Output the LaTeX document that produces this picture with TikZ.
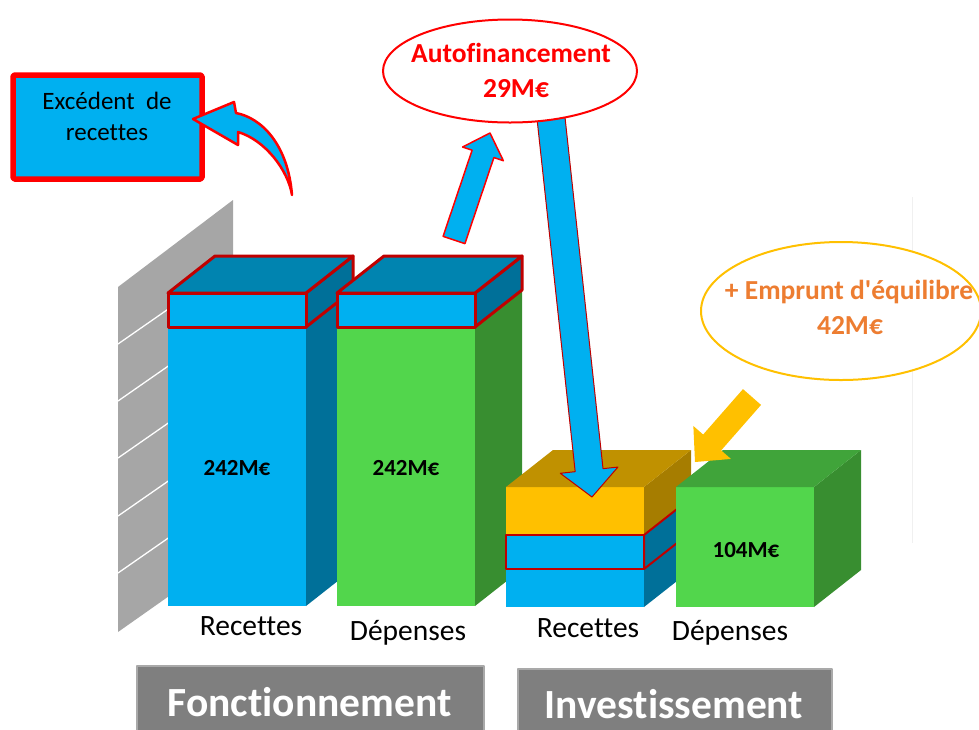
\documentclass[tikz,border=0pt]{standalone}
\usepackage{fontspec}
\setmainfont{Carlito}[Ligatures=NoCommon]
\newfontfamily\calib{Carlito}[Ligatures=NoCommon]
\usetikzlibrary{calc,shapes.geometric}

\definecolor{cyanF}{HTML}{00B0F0}
\definecolor{cyanS}{HTML}{007099}
\definecolor{cyanT}{HTML}{0084B0}
\definecolor{greenF}{HTML}{52D64C}
\definecolor{greenS}{HTML}{388E30}
\definecolor{greenT}{HTML}{40A43A}
\definecolor{goldF}{HTML}{FFC000}
\definecolor{goldT}{HTML}{C09100}
\definecolor{goldS}{HTML}{A67D00}
\definecolor{capRed}{HTML}{C00000}
\definecolor{wallGray}{HTML}{A6A6A6}
\definecolor{boxGray}{HTML}{7F7F7F}
\definecolor{boxEdge}{HTML}{A9A9A9}
\definecolor{orangeT}{HTML}{ED7D31}
\definecolor{pureRed}{HTML}{FF0000}

% three visible faces of a block: x left, y top, height, front / side / top styles
\newcommand\boxfaces[6]{%
  \path[#5] (#1+138,#2) -- ++(47,-37) -- ++(0,#3) -- ++(-47,37) -- cycle;
  \path[#4] (#1,#2) rectangle ++(138,#3);
  \path[#6] (#1,#2) -- ++(47,-37) -- ++(138,0) -- ++(-47,37) -- cycle;
}

% straight block arrow: style, tail, tip, half shaft, half head, head length
\newcommand\blockarrow[6]{%
  \coordinate (hb) at ($(#3)!#6!(#2)$);
  \path[#1] ($(#2)!#4!90:(#3)$) -- ($(hb)!#4!-90:(#2)$) -- ($(hb)!#5!-90:(#2)$)
    -- (#3) -- ($(hb)!#5!90:(#2)$) -- ($(hb)!#4!90:(#2)$) -- ($(#2)!#4!-90:(#3)$) -- cycle;
}

\begin{document}
\begin{tikzpicture}[x=1pt,y=-1pt,line join=round,
  lbl/.style={font=\calib\fontsize{29.5}{34}\selectfont, inner sep=0pt, anchor=base},
  val/.style={font=\calib\fontsize{23}{28}\selectfont\bfseries, inner sep=0pt, anchor=base},
  capline/.style={draw=capRed, line width=3pt},
  section/.style={fill=boxGray, draw=boxEdge, line width=2pt, inner sep=0pt,
    anchor=north west},
  sectxt/.style={font=\calib\fontsize{41.5}{48}\selectfont\bfseries, text=white,
    inner sep=0pt, anchor=base},
  bubbletxt/.style={font=\calib\fontsize{27.5}{33}\selectfont\bfseries, inner sep=0pt,
    anchor=base}]

\clip (0,0) rectangle (979,729);

% faint vertical rule on the right
\draw[black!6, line width=1pt] (912,197) -- (912,543);

% grey background wall
\fill[wallGray] (118,287) -- (233,200) -- (233,551) -- (118,632) -- cycle;
\foreach \yy in {344,401,458,516,573}
  \draw[white, line width=1.3pt] (118,\yy) -- ++(115,-80);

% Fonctionnement: recettes
\boxfaces{168}{327}{279}{fill=cyanF}{fill=cyanS}{}
\boxfaces{168}{293}{34}{fill=cyanF,capline}{fill=cyanS,capline}{fill=cyanT,capline}
% Fonctionnement: depenses
\boxfaces{337}{327}{279}{fill=greenF}{fill=greenS}{}
\boxfaces{337}{293}{34}{fill=cyanF,capline}{fill=cyanS,capline}{fill=cyanT,capline}

% Investissement: recettes
\boxfaces{506}{569}{38}{fill=cyanF}{fill=cyanS}{}
\boxfaces{506}{487}{48}{fill=goldF}{fill=goldS}{fill=goldT}
\boxfaces{506}{535}{34}{fill=cyanF,draw=capRed,line width=2pt}{fill=cyanS,draw=capRed,line width=2pt}{}
% Investissement: depenses
\boxfaces{676}{487}{120}{fill=greenF}{fill=greenS}{fill=greenT}

% values
\node[val] (v1) at (237,475) {242M€};
\node[val] (v2) at (406,475) {242M€};
\node[val] (v4) at (746,557) {104M€};

% bar labels
\node[lbl] (r1) at (251,635) {Recettes};
\node[lbl] (d1) at (408,640) {Dépenses};
\node[lbl] (r2) at (588,637) {Recettes};
\node[lbl] (d2) at (730,640) {Dépenses};

% section headers
\node[section, minimum width=347pt, minimum height=80pt] (fonct) at (136,665) {};
\node[sectxt] (fonctT) at (309.5,716) {Fonctionnement};
\node[section, minimum width=314pt, minimum height=80pt] (invest) at (517,668) {};
\node[sectxt] (investT) at (674,718) {Investissement};

% surplus box and its curved arrow
\node[draw=pureRed, line width=5.5pt, fill=cyanF, minimum width=189pt,
  minimum height=104pt, rounded corners=1.5pt, inner sep=0pt] (exc) at (107.5,127) {};
\node[font=\calib\fontsize{25}{31}\selectfont, align=center, inner sep=0pt] (excT)
  at (107,116) {Excédent\ \ de\\recettes};
\fill[cyanF, draw=pureRed, line width=2.5pt]
  (193,119) -- (234,102) -- (236,113)
  .. controls (262,118) and (288,145) .. (292,195)
  .. controls (288,170) and (265,140) .. (238,132)
  -- (238,145) -- cycle;

% self-financing flows
\coordinate (upTail) at (454,240);
\coordinate (upTip) at (490,133);
\blockarrow{fill=cyanF,draw=pureRed,line width=1.5pt}{upTail}{upTip}{11.5pt}{21.5pt}{22pt}
\coordinate (dnTail) at (551,118);
\coordinate (dnTip) at (592,497);
\blockarrow{fill=cyanF,draw=capRed,line width=1pt}{dnTail}{dnTip}{14pt}{29pt}{27pt}

% self-financing bubble
\node[ellipse, draw=pureRed, line width=2pt, fill=white, minimum width=254pt,
  minimum height=103pt, inner sep=0pt] (autofin) at (510,71) {};
\node[bubbletxt, text=pureRed] (autofinA) at (511,62) {Autofinancement};
\node[bubbletxt, text=pureRed] (autofinB) at (516,97) {29M€};

% borrowing bubble and arrow
\node[ellipse, draw=goldF, line width=2pt, fill=white, minimum width=280pt,
  minimum height=138pt, inner sep=0pt] (emprunt) at (841,311) {};
\node[bubbletxt, text=orangeT] (empruntA) at (849,299) {+ Emprunt d'équilibre};
\node[bubbletxt, text=orangeT] (empruntB) at (850,334) {42M€};
\coordinate (yTail) at (752,397);
\coordinate (yTip) at (695,462);
\blockarrow{fill=goldF}{yTail}{yTip}{12pt}{25pt}{26pt}

\end{tikzpicture}
\end{document}
